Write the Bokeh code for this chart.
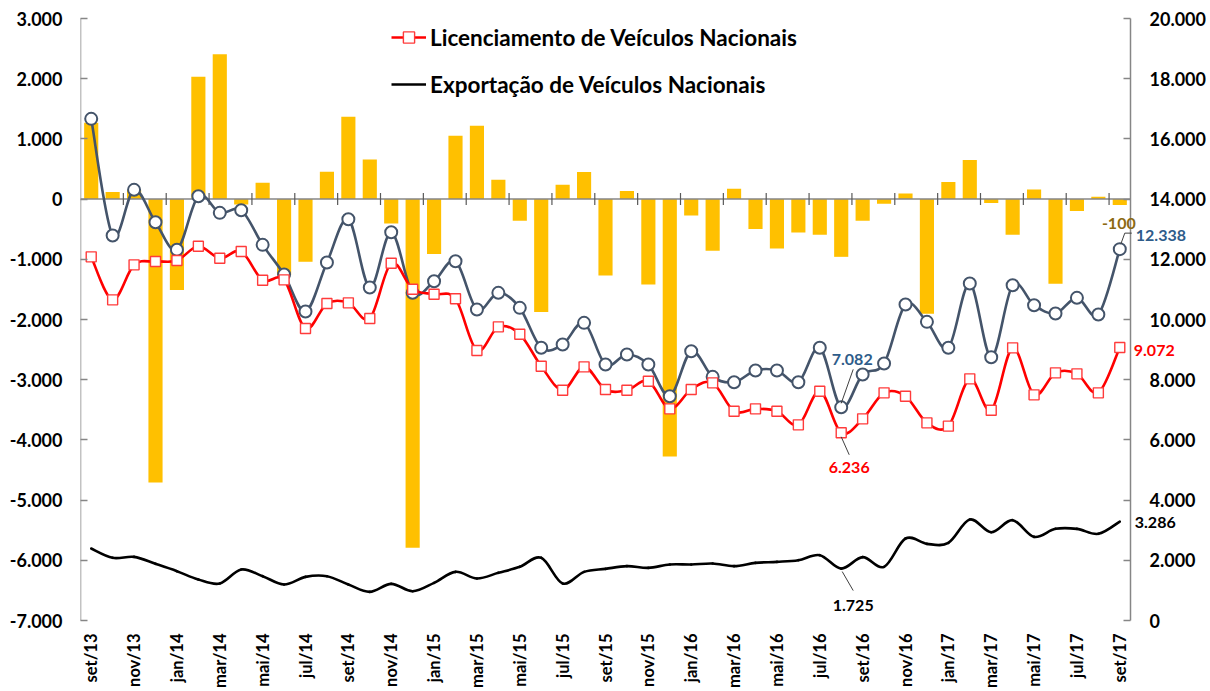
import math
from bokeh.plotting import figure
from bokeh.models import (Range1d, LinearAxis, FixedTicker, Legend, LegendItem,
                          Label, CustomJSTickFormatter)
from bokeh.embed import file_html
from bokeh.resources import INLINE

# ---------------- data ----------------
months = ["set/13", "out/13", "nov/13", "dez/13",
          "jan/14", "fev/14", "mar/14", "abr/14", "mai/14", "jun/14", "jul/14", "ago/14", "set/14", "out/14", "nov/14", "dez/14",
          "jan/15", "fev/15", "mar/15", "abr/15", "mai/15", "jun/15", "jul/15", "ago/15", "set/15", "out/15", "nov/15", "dez/15",
          "jan/16", "fev/16", "mar/16", "abr/16", "mai/16", "jun/16", "jul/16", "ago/16", "set/16", "out/16", "nov/16", "dez/16",
          "jan/17", "fev/17", "mar/17", "abr/17", "mai/17", "jun/17", "jul/17", "ago/17", "set/17"]

saldo = [1267, 116, 150, -4707, -1512, 2031, 2408, -89, 271, -1257, -1041, 453, 1367, 658, -405, -5792,
         -914, 1052, 1218, 321, -360, -1877, 238, 449, -1268, 133, -1418, -4275,
         -272, -859, 171, -498, -820, -554, -592, -959, -360, -78, 94, -1905,
         282, 648, -66, -592, 160, -1407, -199, 38, -100]

producao = [16666, 12790, 14308, 13232, 12315, 14096, 13543, 13631, 12480, 11494, 10265, 11893, 13331, 11062, 12900, 10886,
            11272, 11937, 10331, 10886, 10387, 9059, 9169, 9889, 8504, 8837, 8504, 7452,
            8947, 8095, 7917, 8305, 8305, 7917, 9059, 7082, 8172, 8538, 10498, 9922,
            9059, 11195, 8748, 11139, 10475, 10199, 10720, 10165, 12338]

licenciamento = [12082, 10653, 11816, 11926, 11959, 12434, 12036, 12258, 11305, 11317, 9700, 10531, 10553, 10032, 11870, 11006,
                 10840, 10687, 8969, 9756, 9512, 8449, 7651, 8427, 7674, 7651, 7950, 7032,
                 7674, 7895, 6954, 7032, 6954, 6500, 7618, 6236, 6700, 7563, 7452, 6567,
                 6456, 8028, 6987, 9058, 7497, 8228, 8194, 7563, 9072]

exportacao = [2392, 2082, 2115, 1883, 1639, 1362, 1229, 1694, 1472, 1196, 1450, 1472, 1196, 952, 1218, 974,
              1251, 1616, 1395, 1583, 1783, 2082, 1229, 1616, 1716, 1805, 1749, 1860,
              1860, 1893, 1805, 1915, 1949, 2004, 2170, 1725, 2104, 1783, 2724, 2547,
              2580, 3355, 2934, 3333, 2779, 3045, 3045, 2879, 3286]

left_ticks = [-7000, -6000, -5000, -4000, -3000, -2000, -1000, 0, 1000, 2000, 3000]
right_ticks = [0, 2000, 4000, 6000, 8000, 10000, 12000, 14000, 16000, 18000, 20000]

# ---------------- style / layout ----------------
FONT = "Lato"
C_BAR = "#FFC000"
C_GREY = "#44546A"
C_RED = "#FF0000"
C_BLACK = "#000000"
C_AXIS = "#868686"

n = len(months)
xs = list(range(n))

FIG_W, FIG_H = 1206, 690
BORDER_L, BORDER_T = 80, 7
PLOT_W, PLOT_H = 1050, 602             # size of the area between the value-axis ticks
PAD_T, PAD_B = 11, 10                  # frame padding so end tick labels are not clipped
FRAME_W = FIG_W - BORDER_L             # frame runs to the right edge (room for end labels)
LEFT_MIN, LEFT_MAX = left_ticks[0], left_ticks[-1]
RIGHT_MIN, RIGHT_MAX = right_ticks[0], right_ticks[-1]
px_x = PLOT_W / n                                  # px per category
px_yl = PLOT_H / (LEFT_MAX - LEFT_MIN)             # px per left unit
px_yr = PLOT_H / (RIGHT_MAX - RIGHT_MIN)           # px per right unit
x_lo = -0.5
x_axis_end = n - 0.5
x_hi = x_lo + FRAME_W / px_x

p = figure(width=FIG_W, height=FIG_H, output_backend="svg", toolbar_location=None,
           x_range=Range1d(x_lo, x_hi),
           y_range=Range1d(LEFT_MIN - PAD_B / px_yl, LEFT_MAX + PAD_T / px_yl),
           min_border_left=BORDER_L, min_border_right=0, min_border_top=BORDER_T,
           min_border_bottom=0)
p.outline_line_color = None
p.xgrid.visible = False
p.ygrid.visible = False
p.background_fill_color = "white"
p.border_fill_color = "white"
p.extra_y_ranges = {"right": Range1d(RIGHT_MIN - PAD_B / px_yr, RIGHT_MAX + PAD_T / px_yr)}

fmt = CustomJSTickFormatter(code="""
const s = Math.abs(tick).toFixed(0).replace(/\\B(?=(\\d{3})+(?!\\d))/g, '.');
return (tick < 0 ? '-' : '') + s;
""")


def style_axis(ax, standoff):
    ax.axis_line_color = None
    ax.major_tick_line_color = C_AXIS
    ax.major_tick_line_width = 1.5
    ax.major_tick_in = 7
    ax.major_tick_out = 0
    ax.minor_tick_in = 0
    ax.minor_tick_out = 0
    ax.minor_tick_line_color = None
    ax.major_label_standoff = standoff
    ax.major_label_text_font = FONT
    ax.major_label_text_font_style = "bold"
    ax.major_label_text_font_size = "18px"
    ax.major_label_text_color = "#000000"


# left axis
la = p.yaxis[0]
la.ticker = FixedTicker(ticks=left_ticks)
la.formatter = fmt
style_axis(la, 18)

# right axis, pinned at the end of the category range
ra = LinearAxis(y_range_name="right", ticker=FixedTicker(ticks=right_ticks), formatter=fmt,
                fixed_location=x_axis_end)
style_axis(ra, 19)
p.add_layout(ra, "right")

# axis lines spanning exactly the tick range
p.segment(x0=[x_lo], x1=[x_lo], y0=[LEFT_MIN], y1=[LEFT_MAX], line_color=C_AXIS, line_width=1.5)
p.segment(x0=[x_axis_end], x1=[x_axis_end], y0=[RIGHT_MIN], y1=[RIGHT_MAX],
          line_color=C_AXIS, line_width=1.5, y_range_name="right")

# bottom axis (labels only)
xa = p.xaxis[0]
xa.ticker = FixedTicker(ticks=xs[::2])
xa.major_label_overrides = {i: months[i] for i in xs[::2]}
xa.major_label_orientation = math.pi / 2
xa.axis_line_color = None
xa.major_tick_line_color = None
xa.minor_tick_line_color = None
xa.major_tick_in = 0
xa.major_tick_out = 0
xa.minor_tick_in = 0
xa.minor_tick_out = 0
xa.major_label_standoff = 3
xa.major_label_text_font = FONT
xa.major_label_text_font_style = "bold"
xa.major_label_text_font_size = "16.5px"
xa.major_label_text_color = "#000000"

# bars
p.vbar(x=xs, top=saldo, bottom=0, width=0.66, fill_color=C_BAR, line_color=None)

# zero line (category axis) with tick marks every two months
p.segment(x0=[x_lo], x1=[x_axis_end], y0=[0], y1=[0], line_color=C_AXIS, line_width=1.5)
tick_x = [i + 0.5 for i in range(1, n - 1, 2)]
tick_h = 6 / px_yl
p.segment(x0=tick_x, x1=tick_x, y0=[-tick_h] * len(tick_x), y1=[tick_h] * len(tick_x),
          line_color="#595959", line_width=1.2)


def smooth(xv, yv, color, width):
    m = len(xv)
    x0, y0, x1, y1, cx0, cy0, cx1, cy1 = [], [], [], [], [], [], [], []
    for i in range(m - 1):
        a = max(i - 1, 0)
        d = min(i + 2, m - 1)
        x0.append(xv[i]); y0.append(yv[i])
        x1.append(xv[i + 1]); y1.append(yv[i + 1])
        cx0.append(xv[i] + (xv[i + 1] - xv[a]) / 6)
        cy0.append(yv[i] + (yv[i + 1] - yv[a]) / 6)
        cx1.append(xv[i + 1] - (xv[d] - xv[i]) / 6)
        cy1.append(yv[i + 1] - (yv[d] - yv[i]) / 6)
    p.bezier(x0=x0, y0=y0, x1=x1, y1=y1, cx0=cx0, cy0=cy0, cx1=cx1, cy1=cy1,
             line_color=color, line_width=width, line_cap="round", y_range_name="right")


smooth(xs, producao, C_GREY, 2.6)
p.scatter(xs, producao, marker="circle", size=12, fill_color="white", line_color=C_GREY,
          line_width=2, y_range_name="right")
smooth(xs, licenciamento, C_RED, 2.6)
p.scatter(xs, licenciamento, marker="square", size=10, fill_color="white", line_color="#FF3B3B",
          line_width=1.4, y_range_name="right")
smooth(xs, exportacao, C_BLACK, 2.6)

# legend (proxy renderers without data points)
nan = float("nan")
r_leg_line = p.line([nan], [nan], line_color=C_RED, line_width=2.6)
r_leg_sq = p.scatter([nan], [nan], marker="square", size=10, fill_color="white",
                     line_color="#FF3B3B", line_width=1.4)
r_leg_blk = p.line([nan], [nan], line_color=C_BLACK, line_width=2.6)
legend = Legend(items=[
    LegendItem(label="Licenciamento de Veículos Nacionais", renderers=[r_leg_line, r_leg_sq]),
    LegendItem(label="Exportação de Veículos Nacionais", renderers=[r_leg_blk]),
], location=(311, 522 + PAD_B), orientation="vertical")
legend.label_text_font = FONT
legend.label_text_font_style = "bold"
legend.label_text_font_size = "22.5px"
legend.label_text_color = "#000000"
legend.glyph_width = 35
legend.glyph_height = 28
legend.label_height = 28
legend.label_standoff = 4
legend.spacing = 19
legend.padding = 0
legend.margin = 0
legend.border_line_color = None
legend.background_fill_alpha = 0
p.add_layout(legend)


# data labels
def fmtnum(v):
    s = f"{abs(v):,}".replace(",", ".")
    return ("-" if v < 0 else "") + s


def label(x, y, text, color, xo, yo, align, rng="right"):
    kw = dict(x=x, y=y, text=text, x_offset=xo, y_offset=yo, text_align=align,
              text_baseline="middle", text_color=color, text_font=FONT,
              text_font_style="bold", text_font_size="16px")
    if rng == "right":
        kw["y_range_name"] = "right"
    p.add_layout(Label(**kw))


def leader(x, y, dxa, dya, dxb, dyb):
    # short leader line from a point, offsets in screen pixels
    p.line([x + dxa / px_x, x + dxb / px_x], [y + dya / px_yr, y + dyb / px_yr],
           line_color="#404040", line_width=1, y_range_name="right")


last = n - 1
imin = licenciamento.index(min(licenciamento))
label(last, saldo[last], fmtnum(saldo[last]), "#8C6A12", -1, -18, "center", rng="left")
label(last, producao[last], fmtnum(producao[last]), "#2E5C8A", 16, 14, "left")
leader(last, producao[last], 1, 5, 5, 16)
leader(last, producao[last], 5, 16, 12, 16)
label(last, licenciamento[last], fmtnum(licenciamento[last]), C_RED, 14, -3, "left")
label(last, exportacao[last], fmtnum(exportacao[last]), C_BLACK, 15, -1, "left")

label(imin, producao[imin], fmtnum(producao[imin]), "#2E5C8A", 11, 48, "center")
leader(imin, producao[imin], 0, 4, 12, 38)
label(imin, licenciamento[imin], fmtnum(licenciamento[imin]), C_RED, 8, -35, "center")
leader(imin, licenciamento[imin], 0, -4, 8, -22)
label(imin, exportacao[imin], fmtnum(exportacao[imin]), C_BLACK, 12, -37, "center")
leader(imin, exportacao[imin], 1, -3, 12, -22)

open("out.html", "w").write(file_html(p, INLINE))
